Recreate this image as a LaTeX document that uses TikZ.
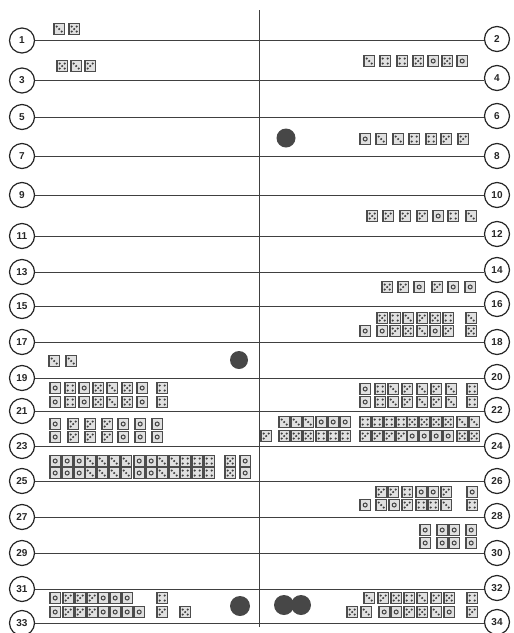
\documentclass[tikz,border=0pt]{standalone}
\usepackage{fontspec}
\setmainfont{Liberation Sans}
\newcommand{\dieat}[3]{%
  \begin{scope}[shift={(#1+5.2,#2)}]
    \filldraw[dieb] (-5.2,-5.2) rectangle (5.2,5.2);
    \ifcase#3\relax
      \fill[pip] (-2.5,-2.5) circle (1.2pt) (2.5,-2.5) circle (1.2pt) (0,0) circle (1.2pt) (-2.5,2.5) circle (1.2pt) (2.5,2.5) circle (1.2pt);
    \or
      \fill[pip] (-2.5,-2.5) circle (1.2pt) (2.5,-2.5) circle (1.2pt) (-2.5,2.5) circle (1.2pt) (2.5,2.5) circle (1.2pt);
    \or
      \fill[pip] (-2.5,-2.5) circle (1.2pt) (0,0) circle (1.2pt) (2.5,2.5) circle (1.2pt);
    \or
      \draw[pipring] (0,0) circle (2pt);
    \or
      \fill[pip] (-2.5,2.5) circle (1.2pt) (2.5,-2.5) circle (1.2pt) (0,0) circle (1.2pt) (-2.5,-2.5) circle (1.2pt);
    \fi
  \end{scope}}
\newcommand{\drow}[2]{\foreach \xx [count=\k] in {#2} {\pgfmathtruncatemacro\ff{mod(\k*3+\xx,5)}\dieat{\xx}{#1}{\ff}}}
\begin{document}
\begin{tikzpicture}[x=1pt,y=-1pt,
  numc/.style={circle,draw=black!85,line width=1.2pt,minimum size=25pt,inner sep=0pt,
    font=\fontsize{10}{10}\selectfont\bfseries,text=black!85,fill=white},
  hline/.style={draw=black!75,line width=0.9pt},
  dieb/.style={draw=black!70,line width=1.3pt,fill=black!12},
  pip/.style={fill=black!75},
  pipring/.style={draw=black!75,line width=1pt},
  disc/.style={fill=black!72}]
\useasboundingbox (0,0) rectangle (514,633);
\fill[white] (0,0) rectangle (514,633);
% centre line
\coordinate (top) at (259,10);
\coordinate (bot) at (259,627);
\draw[hline] (top) -- (bot);
% numbered circles
\foreach \n/\y in {1/40.5,3/80.5,5/117,7/156,9/195,11/236,13/272,15/306,17/342,19/378,21/411,23/446,25/481,27/517,29/553,31/589,33/623}
  \node[numc] (L\n) at (22,\y) {\n};
\foreach \n/\y in {2/39,4/78,6/116,8/156,10/195,12/234,14/270,16/304,18/342,20/377,22/410,24/446,26/481,28/516,30/553,32/588,34/622}
  \node[numc] (R\n) at (497,\y) {\n};
% horizontal lines
\foreach \a/\b in {1/2,3/4,5/6,7/8,9/10,11/12,13/14,15/16,17/18,19/20,21/22,23/24,25/26,27/28,29/30,31/32,33/34}
  \draw[hline] (L\a.east) -- (R\b.west |- L\a.east);
% dice
\drow{29}{54,69}
\drow{66}{57,71,85}
\drow{61}{364,380,397,413,428,442,457}
\drow{139}{360,376,393,409,426,441,458}
\drow{216}{367,383,400,417,433,448,466}
\drow{287}{382,398,414,432,448,465}
\drow{318}{377,390,403,417,430,443,466}
\drow{331}{360,377,390,403,417,430,443,466}
\drow{361}{49,66}
\drow{388}{50,65,79,93,107,122,137,157}
\drow{402}{50,65,79,93,107,122,137,157}
\drow{424}{50,68,85,102,118,135,152}
\drow{437}{50,68,85,102,118,135,152}
\drow{461}{50,62,74,85,97,109,121,134,146,157,169,180,192,204,225,240}
\drow{473}{50,62,74,85,97,109,121,134,146,157,169,180,192,204,225,240}
\drow{389}{360,375,388,402,417,431,446,467}
\drow{402}{360,375,388,402,417,431,446,467}
\drow{422}{279,291,303,316,328,340,360,372,384,396,407,419,431,443,457,469}
\drow{436}{261,279,291,303,316,328,340,360,372,384,396,407,419,431,443,457,469}
\drow{492}{376,388,402,416,428,441,467}
\drow{505}{360,376,389,402,416,428,441,467}
\drow{530}{420,437,449,466}
\drow{543}{420,437,449,466}
\drow{598}{50,63,75,87,98,110,122,157}
\drow{612}{50,63,75,87,98,110,122,134,157,180}
\drow{598}{364,378,391,404,417,431,444,467}
\drow{612}{347,361,379,391,404,417,431,444,467}
% discs
\fill[disc] (286,138) circle (9.5pt);
\fill[disc] (239,360) circle (9pt);
\fill[disc] (240,606) circle (10pt);
\fill[disc] (284,605) circle (10pt);
\fill[disc] (301,605) circle (10pt);
\end{tikzpicture}
\end{document}
